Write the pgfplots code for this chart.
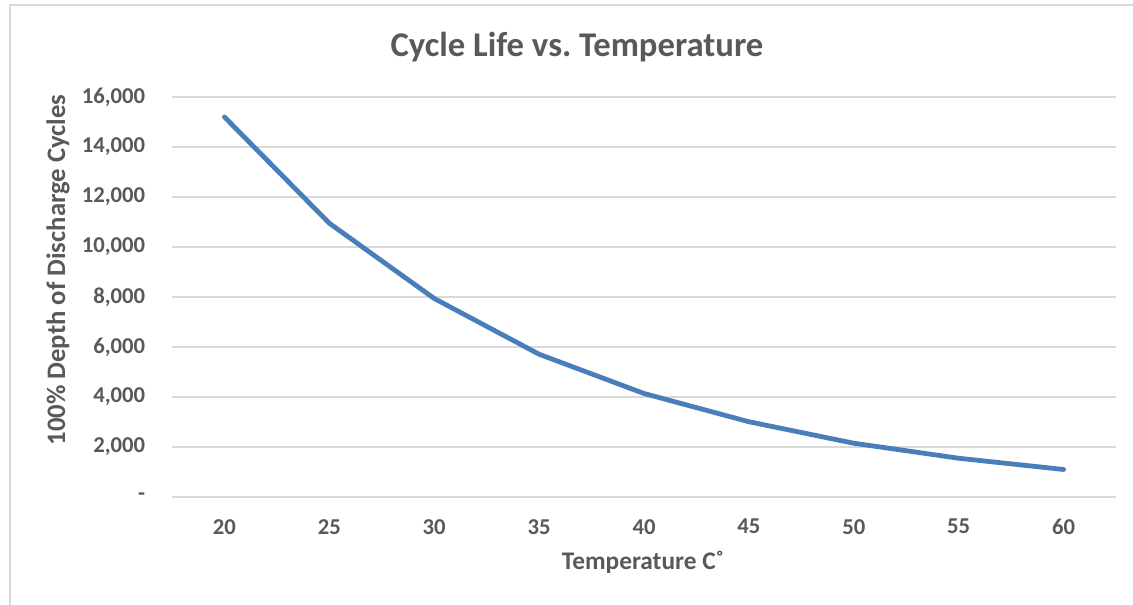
\documentclass[border=0pt]{standalone}
\usepackage{fontspec}
\setmainfont{Carlito}
\usepackage{pgfplots}
\pgfplotsset{compat=1.18}
\definecolor{txt}{RGB}{89,89,89}
\definecolor{grd}{RGB}{217,217,217}
\definecolor{ln}{RGB}{74,126,187}
\frenchspacing
\begin{document}
\begin{tikzpicture}
\useasboundingbox (0,0) rectangle (849.75pt,453.75pt);
\fill[white] (0,0) rectangle (849.75pt,453.75pt);
\draw[grd, line width=1pt] (7.5pt,0) -- (7.5pt,450pt) -- (849.75pt,450pt);
\begin{axis}[
  at={(129pt,81pt)}, anchor=south west,
  scale only axis, width=708pt, height=300pt,
  xmin=17.5, xmax=62.5, ymin=0, ymax=16000,
  scaled y ticks=false, scaled x ticks=false,
  xtick={20,25,30,35,40,45,50,55,60},
  xticklabels={20,25,30,35,40,45,50,55,60},
  ytick={0,2000,4000,6000,8000,10000,12000,14000,16000},
  yticklabels={-,{2,000},{4,000},{6,000},{8,000},{10,000},{12,000},{14,000},{16,000}},
  axis line style={draw=none},
  tick style={draw=none},
  ymajorgrids, grid style={grd, line width=1pt},
  ticklabel style={font=\fontsize{17}{19}\selectfont\bfseries, text=txt},
  yticklabel style={anchor=east, inner sep=0pt, xshift=-20pt},
  xticklabel style={anchor=north, inner sep=0pt, yshift=-16.5pt},
  clip=false,
]
\addplot[ln, line width=3.6pt, line cap=round, line join=round] coordinates {
  (20,15200) (25,10950) (30,7940) (35,5710) (40,4140) (45,3010) (50,2150) (55,1550) (60,1100)
};
\end{axis}
\node[anchor=base, text=txt, font=\fontsize{26}{28}\selectfont\bfseries, inner sep=0pt] at (432.75pt,411pt) {Cycle Life vs. Temperature};
\node[anchor=base, text=txt, font=\fontsize{19}{21}\selectfont\bfseries, inner sep=0pt] at (482.25pt,26.25pt) {Temperature C˚};
\node[anchor=base, rotate=90, text=txt, font=\fontsize{20}{22}\selectfont\bfseries, inner sep=0pt] at (48.75pt,251.25pt) {100\% Depth of Discharge Cycles};
\end{tikzpicture}
\end{document}
